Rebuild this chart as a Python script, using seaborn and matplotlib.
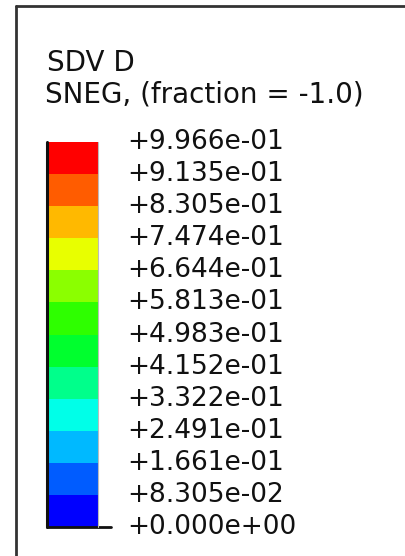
import matplotlib
matplotlib.use("Agg")
import matplotlib.pyplot as plt
import seaborn as sns
import numpy as np
import pandas as pd
from matplotlib.colors import ListedColormap
from matplotlib.lines import Line2D

title_line1 = "SDV D"
title_line2 = "SNEG, (fraction = -1.0)"

# contour levels, top to bottom
levels = [9.966e-01, 9.135e-01, 8.305e-01, 7.474e-01, 6.644e-01, 5.813e-01,
          4.983e-01, 4.152e-01, 3.322e-01, 2.491e-01, 1.661e-01, 8.305e-02, 0.0]
# band colours, top (highest) to bottom (lowest)
band_colors = ["#FF0000", "#FF5C00", "#FFB900", "#E8FF00", "#8BFF00", "#2EFF00",
               "#00FF2E", "#00FF8B", "#00FFE8", "#00B9FF", "#005CFF", "#0000FF"]
tick_labels = [f"{v:+.3e}" for v in levels]

sns.set_theme(style="white")
plt.rcParams['font.family'] = ['DejaVu Sans']

W, H = 405, 556
fig = plt.figure(figsize=(W / 100, H / 100), dpi=100)
fig.patch.set_facecolor("white")

band_mid = [(levels[i] + levels[i + 1]) / 2 for i in range(len(band_colors))]
df = pd.DataFrame({"v": band_mid})
cmap = ListedColormap(band_colors[::-1])

x0, x1 = 47, 98
y0, y1 = 142, 527
ax = fig.add_axes([x0 / W, 1 - y1 / H, (x1 - x0) / W, (y1 - y0) / H])
sns.heatmap(df, ax=ax, cmap=cmap, cbar=False, vmin=levels[-1], vmax=levels[0],
            xticklabels=False, yticklabels=False)
ax.set_yticks(np.arange(len(levels)))
ax.set_yticklabels(tick_labels, fontsize=19, color="#111111")
ax.yaxis.tick_right()
ax.tick_params(axis="y", length=0, pad=21, right=False, left=False)
for lab in ax.get_yticklabels():
    lab.set_verticalalignment("center")
ax.set_xlabel("")
ax.set_ylabel("")
for s in ax.spines.values():
    s.set_visible(False)
ax.plot([0, 0], [0, 1], transform=ax.transAxes, color="#111111", lw=2.2, clip_on=False)
ax.plot([0, 1.25], [0, 0], transform=ax.transAxes, color="#111111", lw=2.0, clip_on=False)
ax.plot([1, 1], [0, 1], transform=ax.transAxes, color="#bbbbbb", lw=0.8, clip_on=False)

fig.text(47 / W, 1 - 71 / H, title_line1, fontsize=20, color="#111111", va="baseline", ha="left")
fig.text(45 / W, 1 - 102 / H, title_line2, fontsize=20, color="#111111", va="baseline", ha="left")

fig.add_artist(Line2D([16 / W, 1.0], [1 - 6 / H, 1 - 6 / H], transform=fig.transFigure,
                      color="#333333", lw=2))
fig.add_artist(Line2D([16 / W, 16 / W], [1 - 6 / H, 0.0], transform=fig.transFigure,
                      color="#333333", lw=2))

fig.savefig("out.png", dpi=100, facecolor="white")
